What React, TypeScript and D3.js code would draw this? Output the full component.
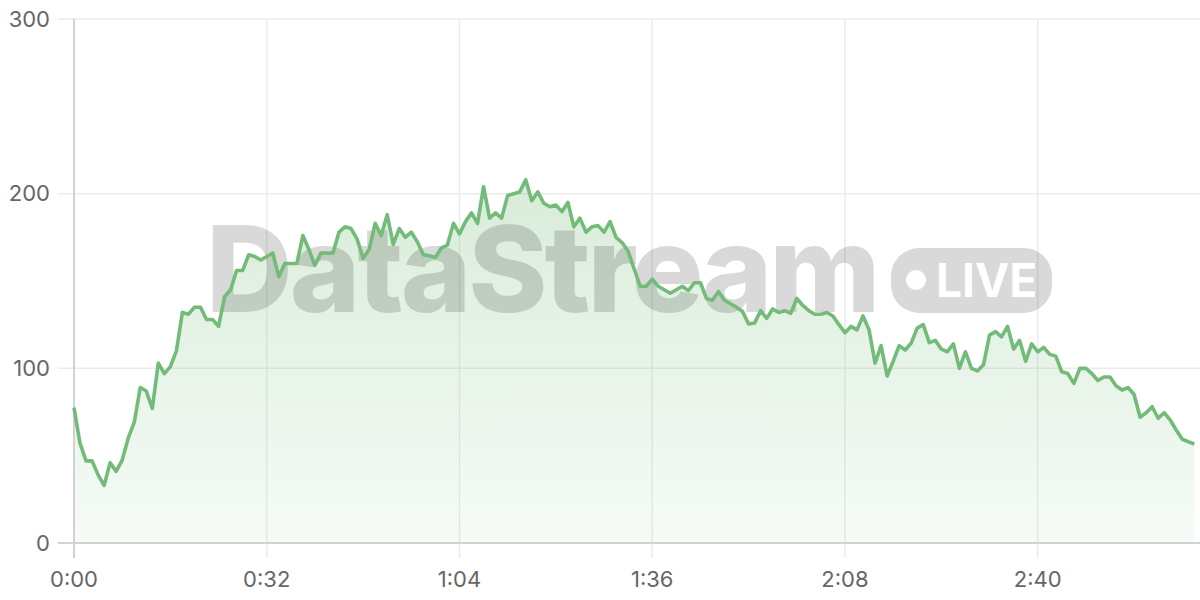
import React from "react";
import * as d3 from "d3";

const seconds: number[] = d3.range(0, 187);
const values: number[] = [
  77.5, 57, 47, 47, 39, 33, 46, 41, 47.5, 60,
  69, 89, 87, 77, 103, 97, 101, 110, 132, 131,
  135, 135, 128, 128, 124, 141, 145, 156, 156, 165,
  164, 162, 164, 166, 152.5, 160, 160, 160, 176, 168,
  159, 166, 166, 166, 178, 181, 180, 174, 163, 168,
  183, 176, 188, 171, 180, 175, 178, 172.5, 165, 164.5,
  163.5, 169, 170.6, 183, 177, 184, 189, 183, 204, 186,
  189, 186, 199, 200, 201, 208, 196, 201, 194.5, 192.5,
  193.5, 189.7, 195, 181, 186, 178, 181, 181.7, 178, 184,
  175, 172, 167, 157, 147, 147, 151, 147, 145, 143,
  145, 147, 144.5, 149, 149, 140, 139, 144, 139, 137,
  135, 132.5, 125.4, 126, 133, 128.6, 134, 132, 133, 131.5,
  140, 136, 133, 131, 131, 132, 130, 125, 120.4, 124,
  122, 130, 122, 103, 113, 95.6, 104, 113, 110.5, 114.5,
  123, 125, 114.7, 116, 111, 109.5, 114, 100, 109.5, 100,
  98.5, 102, 119, 121, 118, 124, 111, 116, 104, 114,
  109.5, 112, 108, 107, 98, 97, 91.4, 100, 100, 97,
  93, 95, 95, 90, 87.6, 89, 85, 72, 74.6, 78,
  71.4, 74.6, 70.4, 64.7, 59.4, 58, 56.7,
];
const xTicks: number[] = [0, 32, 64, 96, 128, 160];
const yTicks: number[] = [0, 100, 200, 300];
const watermarkText = "DataStream";
const badgeText = "LIVE";

const fmt = (s: number) => `${Math.floor(s / 60)}:${String(s % 60).padStart(2, "0")}`;

export default function App() {
  const W = 1200, H = 600;
  const left = 74, right = 1194.3, top = 19, bottom = 543;
  const x = d3.scaleLinear().domain([0, 186]).range([left, right]);
  const y = d3.scaleLinear().domain([0, 300]).range([bottom, top]);
  const data = seconds.map((s, i) => ({ s, v: values[i] }));
  const line = d3.line<{ s: number; v: number }>().x(d => x(d.s)).y(d => y(d.v));
  const area = d3.area<{ s: number; v: number }>().x(d => x(d.s)).y0(y(0)).y1(d => y(d.v));
  const green = "#73bb78";
  const font = "Inter, 'Liberation Sans', Arial, sans-serif";

  return (
    <svg width={W} height={H} style={{ position: "fixed", left: 0, top: 0, background: "#fff" }}>
      <defs>
        <linearGradient id="fillGrad" x1="0" y1="0" x2="0" y2="1">
          <stop offset="0%" stopColor={green} stopOpacity={0.28} />
          <stop offset="100%" stopColor={green} stopOpacity={0.06} />
        </linearGradient>
      </defs>
      {yTicks.map(t => (
        <line key={"hg" + t} x1={58} x2={W} y1={y(t)} y2={y(t)} stroke="#ebebeb" strokeWidth={1.5} />
      ))}
      {xTicks.map(t => (
        <line key={"vg" + t} x1={x(t)} x2={x(t)} y1={top} y2={558} stroke="#ebebeb" strokeWidth={1.5} />
      ))}
      <path d={area(data) || ""} fill="url(#fillGrad)" />
      <g fontFamily={font} fontWeight={800}>
        <text x={206} y={312} fontSize={120} fill="rgba(0,0,0,0.15)" letterSpacing={-3}>{watermarkText}</text>
        <rect x={891} y={248} width={161} height={65} rx={28} fill="rgba(0,0,0,0.15)" />
        <circle cx={916} cy={280} r={10} fill="#fff" />
        <text x={936} y={297} fontSize={46} fill="#fff" fontWeight={700}>{badgeText}</text>
      </g>
      <line x1={left} x2={left} y1={top} y2={558} stroke="#d2d2d2" strokeWidth={2} />
      <line x1={58} x2={W} y1={bottom} y2={bottom} stroke="#d2d2d2" strokeWidth={2} />
      <path d={line(data) || ""} fill="none" stroke={green} strokeWidth={3.6} strokeLinejoin="round" />
      {yTicks.map(t => (
        <text key={"yl" + t} x={50} y={y(t)} dy="0.35em" textAnchor="end" fontSize={22} fill="#666" fontFamily={font}>{t}</text>
      ))}
      {xTicks.map(t => (
        <text key={"xl" + t} x={x(t)} y={579} dy="0.35em" textAnchor="middle" fontSize={22} fill="#666" fontFamily={font}>{fmt(t)}</text>
      ))}
    </svg>
  );
}
